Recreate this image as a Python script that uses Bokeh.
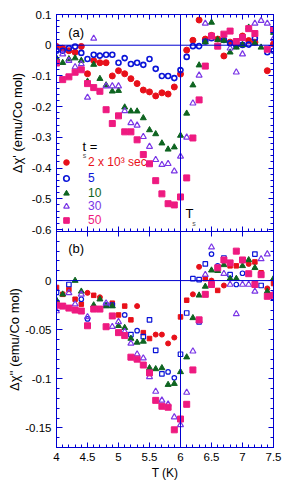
import numpy as np
from bokeh.plotting import figure
from bokeh.models import (FixedTicker, LinearAxis, Span, Label, Legend, LegendItem, Range1d)
from bokeh.layouts import column
from bokeh.embed import file_html
from bokeh.resources import INLINE

# ---------------- data ----------------
# panel (a): delta chi'
red_top_x = [4.0,4.1,4.2,4.3,4.4,4.5,4.6,4.7,4.8,4.9,5.0,5.1,5.2,5.3,5.4,5.5,5.6,5.7,5.8,5.9,6.0,6.1,6.2,6.3,6.4,6.5,6.6,6.7,6.8,6.9,7.0,7.1,7.2,7.4,7.5]
red_top_y = [-0.004,-0.010,-0.018,-0.023,-0.004,-0.093,-0.050,-0.057,-0.057,-0.100,-0.083,-0.093,-0.109,-0.125,-0.146,-0.152,-0.165,-0.155,-0.159,-0.136,-0.094,-0.016,0.016,0.082,0.020,0.032,0.020,-0.035,0.010,0.004,0.030,0.015,0.010,-0.083,0.004]

blue_top_x = [4.0,4.1,4.2,4.3,4.4,4.5,4.6,4.7,4.8,4.9,5.0,5.1,5.2,5.3,5.4,5.5,5.6,5.7,5.8,5.9,6.0,6.1,6.2,6.3,6.4,6.5,6.7,6.8,6.9,7.0,7.1,7.2,7.4,7.5]
blue_top_y = [-0.018,-0.018,-0.010,-0.004,-0.025,-0.045,-0.031,-0.034,-0.031,-0.031,-0.057,-0.042,-0.061,-0.057,-0.064,-0.045,-0.077,-0.100,-0.100,-0.107,-0.081,-0.038,-0.003,-0.003,0.012,0.023,0.017,0.006,-0.002,0.001,0.002,0.023,-0.023,-0.018]

green_top_x = [4.0,4.1,4.2,4.3,4.4,4.5,4.6,4.7,4.8,4.9,5.0,5.1,5.2,5.3,5.4,5.5,5.6,5.7,5.8,5.9,6.0,6.1,6.2,6.3,6.4,6.5,6.6,6.7,6.8,6.9,7.0,7.1,7.2,7.3,7.5]
green_top_y = [-0.042,-0.057,-0.045,-0.042,-0.050,-0.118,-0.063,-0.109,-0.130,-0.150,-0.148,-0.202,-0.215,-0.215,-0.237,-0.276,-0.289,-0.319,-0.339,-0.332,-0.294,-0.222,-0.130,-0.065,0.010,0.074,0.018,0.015,-0.023,-0.007,0.001,0.058,0.006,-0.007,0.041]

purple_top_x = [4.1,4.2,4.3,4.4,4.5,4.6,4.8,4.9,5.0,5.1,5.2,5.3,5.4,5.5,5.6,5.7,5.8,5.9,6.0,6.1,6.2,6.3,6.4,6.8,6.9,7.0,7.2,7.3,7.4,7.5]
purple_top_y = [-0.029,-0.050,-0.071,-0.061,-0.170,0.022,-0.133,-0.133,-0.133,-0.214,-0.253,-0.261,-0.298,-0.330,-0.373,-0.389,-0.386,-0.410,-0.362,-0.300,-0.189,-0.098,0.071,-0.010,-0.088,-0.029,0.071,0.080,0.071,0.021]

magenta_top_x = [4.0,4.1,4.2,4.3,4.4,4.5,4.6,4.7,4.8,4.9,5.0,5.1,5.2,5.3,5.4,5.5,5.6,5.7,5.8,5.9,6.0,6.1,6.2,6.3,6.4,6.5,6.6,6.7,6.8,6.9,7.0,7.1,7.2,7.4,7.5]
magenta_top_y = [-0.058,-0.112,-0.103,-0.088,-0.080,-0.125,-0.138,-0.150,-0.210,-0.255,-0.230,-0.282,-0.282,-0.308,-0.356,-0.386,-0.441,-0.484,-0.516,-0.520,-0.494,-0.432,-0.302,-0.178,-0.068,0.030,-0.003,0.036,0.046,0.012,0.025,0.054,0.038,-0.013,0.051]

# panel (b): delta chi''
red_sq_x = [4.0,4.1,4.2,4.3,4.4,4.6,4.9,5.0,5.1,5.2,5.4,5.5,6.0,6.1,6.4,6.6,6.8,6.9,7.2,7.3,7.5]
red_sq_y = [-0.007,-0.014,-0.009,-0.019,-0.024,-0.015,-0.023,-0.035,-0.026,-0.040,-0.053,-0.059,-0.037,-0.020,0.002,-0.010,0.015,0.015,0.019,0.008,-0.003]
red_ci_x = [4.5,4.7,5.3,5.6,5.7,5.8,5.9,6.2,6.3,6.5,6.7,7.1,7.4]
red_ci_y = [-0.0125,-0.017,-0.026,-0.055,-0.055,-0.064,-0.058,-0.014,0.014,0.0,-0.005,0.017,-0.008]

blue_sq_x = [4.0,4.2,4.8,4.9,5.2,5.4,5.5,5.6,5.7,6.0,6.1,6.2,6.3,6.3,6.4,6.7,6.8,7.2,7.3,7.5]
blue_sq_y = [-0.012,-0.004,-0.025,-0.025,-0.055,-0.057,-0.040,-0.071,-0.095,-0.075,-0.033,0.002,0.001,-0.042,0.017,0.023,0.006,0.027,-0.005,-0.017]
blue_ci_x = [4.4,4.5,5.1,5.3,5.8,5.9,6.5,6.6,6.9,7.0]
blue_ci_y = [-0.019,-0.039,-0.035,-0.051,-0.093,-0.099,0.027,0.015,-0.004,0.0075]

green_bot_x = [4.0,4.1,4.3,4.4,4.6,4.7,4.8,4.9,5.0,5.1,5.2,5.3,5.4,5.5,5.6,5.7,5.8,5.9,6.0,6.1,6.2,6.3,6.4,6.5,6.6,6.7,6.8,6.9,7.0,7.1,7.2,7.4,7.5]
green_bot_y = [-0.020,-0.014,0.0,-0.011,-0.025,-0.019,-0.026,-0.026,-0.046,-0.048,-0.059,-0.063,-0.062,-0.089,-0.090,-0.089,-0.106,-0.105,-0.093,-0.078,-0.038,-0.015,-0.006,0.0105,0.010,0.016,0.002,0.002,0.015,0.021,0.013,-0.011,0.002]

purple_bot_x = [4.0,4.2,4.3,4.4,4.5,4.8,4.9,5.0,5.1,5.2,5.3,5.4,5.5,5.6,5.7,5.8,5.9,6.0,6.1,6.2,6.3,6.4,6.5,6.7,6.8,6.9,7.0,7.1,7.2,7.3,7.4,7.5]
purple_bot_y = [-0.031,-0.0125,-0.024,-0.014,-0.037,-0.023,-0.047,-0.042,-0.052,-0.064,-0.075,-0.079,-0.098,-0.113,-0.122,-0.126,-0.139,-0.147,-0.114,-0.072,-0.041,0.006,0.034,0.007,-0.004,-0.034,-0.004,-0.004,-0.011,0.022,0.027,-0.014]

magenta_bot_x = [4.0,4.1,4.2,4.3,4.4,4.5,4.6,4.7,4.8,4.9,5.0,5.1,5.2,5.3,5.4,5.5,5.6,5.7,5.8,5.9,6.0,6.1,6.2,6.3,6.4,6.5,6.6,6.7,6.8,6.9,7.0,7.1,7.2,7.3,7.4,7.5]
magenta_bot_y = [-0.025,-0.026,-0.028,-0.030,-0.031,-0.046,-0.029,-0.029,-0.047,-0.036,-0.053,-0.056,-0.078,-0.080,-0.086,-0.094,-0.122,-0.128,-0.129,-0.152,-0.141,-0.126,-0.091,-0.040,-0.014,-0.004,0.013,0.021,0.018,0.030,0.021,0.007,-0.004,0.006,-0.016,-0.015]

legend_labels = ["2 x 10\u00b3 sec", "5", "10", "30", "50"]

x_ticks = [4.0, 4.5, 5.0, 5.5, 6.0, 6.5, 7.0, 7.5]
x_tick_labels = ["4", "4.5", "5", "5.5", "6", "6.5", "7", "7.5"]
ya_ticks = [0.1, 0.0, -0.1, -0.2, -0.3, -0.4, -0.5, -0.6]
ya_tick_labels = ["0.1", "0", "-0.1", "-0.2", "-0.3", "-0.4", "-0.5", "-0.6"]
yb_ticks = [0.0, -0.05, -0.1, -0.15]
yb_tick_labels = ["0", "-0.05", "-0.1", "-0.15"]

T_s = 6.0

# ---------------- style ----------------
AX = "#0000d0"
RED = "#e8101a"
BLUE = "#0a14d8"
GREEN = "#0e6420"
PURPLE = "#7a36e6"
MAGENTA = "#ee1a80"
FONT = "Liberation Sans"

x_minor = [round(v, 2) for v in np.arange(4.0, 7.5001, 0.1)]
ya_minor = [round(v, 3) for v in np.arange(-0.6, 0.1001, 0.02)]
yb_minor = [round(v, 3) for v in np.arange(-0.17, 0.0501, 0.01)]


def style_axis(ax, show_labels, tick_in=5, minor_in=3):
    ax.axis_line_color = AX
    ax.major_tick_line_color = AX
    ax.minor_tick_line_color = AX
    ax.major_tick_in = tick_in
    ax.major_tick_out = 0
    ax.minor_tick_in = minor_in
    ax.minor_tick_out = 0
    ax.major_label_text_font = FONT
    ax.axis_label_text_font = FONT
    ax.axis_label_text_font_style = "normal"
    ax.axis_label_text_color = "black"
    ax.major_label_text_font_size = "11.5px"
    if show_labels:
        ax.major_label_text_color = "black"
        ax.major_label_standoff = 5
    else:
        ax.major_label_text_color = None
        ax.major_label_standoff = 0


def make_fig(height, yr, yticks, yminor, ylabels_txt, ylabel, label_standoff, show_x, mbt, mbb):
    p = figure(width=290, height=height, x_range=Range1d(4.0, 7.5), y_range=Range1d(*yr),
               output_backend="svg", toolbar_location=None,
               min_border_left=56, min_border_right=17, min_border_top=mbt, min_border_bottom=mbb,
               x_axis_location=None, y_axis_location=None)
    p.xgrid.visible = False
    p.ygrid.visible = False
    p.outline_line_color = AX

    xt = FixedTicker(ticks=x_ticks, minor_ticks=x_minor)
    yt = FixedTicker(ticks=yticks, minor_ticks=yminor)
    xo = dict(zip(x_ticks, x_tick_labels))
    yo = dict(zip(yticks, ylabels_txt))

    left = LinearAxis(ticker=yt, major_label_overrides=yo, axis_label=ylabel)
    style_axis(left, True)
    left.major_tick_in = 6
    left.axis_label_text_font_size = "13px"
    left.axis_label_standoff = label_standoff
    p.add_layout(left, "left")

    right = LinearAxis(ticker=yt)
    style_axis(right, False)
    p.add_layout(right, "right")

    below = LinearAxis(ticker=xt, major_label_overrides=xo)
    style_axis(below, show_x)
    if show_x:
        below.axis_label = "T (K)"
        below.axis_label_text_font_size = "12px"
        below.axis_label_standoff = 2
    p.add_layout(below, "below")
    return p, xt


# ---------------- panel (a) ----------------
p1, xt1 = make_fig(237, (-0.6065, 0.1), ya_ticks, ya_minor, ya_tick_labels,
                   "\u0394\u03c7' (emu/Co mol)", 4, False, 14, 6)
p1.background_fill_color = "white"
p1.border_fill_color = "white"
top1 = LinearAxis(ticker=xt1)
style_axis(top1, False)
p1.add_layout(top1, "above")

p1.add_layout(Span(location=0, dimension="width", line_color=AX, line_width=1))
p1.add_layout(Span(location=T_s, dimension="height", line_color=AX, line_width=1))

r_red = p1.scatter(red_top_x, red_top_y, marker="circle", size=6, fill_color=RED, line_color=RED)
r_blue = p1.scatter(blue_top_x, blue_top_y, marker="circle", size=5, fill_color=None, line_color=BLUE, line_width=1.6)
r_green = p1.scatter(green_top_x, green_top_y, marker="triangle", size=6, fill_color=GREEN, line_color=GREEN)
r_purple = p1.scatter(purple_top_x, purple_top_y, marker="triangle", size=6, fill_color=None, line_color=PURPLE, line_width=1.2)
r_mag = p1.scatter(magenta_top_x, magenta_top_y, marker="square", size=6, fill_color=MAGENTA, line_color=MAGENTA)

legend_rows = [(legend_labels[0], RED, r_red, 62),
               (legend_labels[1], BLUE, r_blue, 46),
               (legend_labels[2], GREEN, r_green, 31),
               (legend_labels[3], PURPLE, r_purple, 18),
               (legend_labels[4], MAGENTA, r_mag, 4)]
for lab, col, rend, yoff in legend_rows:
    lg = Legend(items=[LegendItem(label=lab, renderers=[rend])], location=(0, yoff),
                padding=0, margin=0, spacing=0, glyph_width=20, glyph_height=14,
                label_height=14, label_standoff=12, label_text_color=col,
                label_text_font=FONT, label_text_font_size="12px",
                border_line_color=None, background_fill_alpha=0)
    p1.add_layout(lg, "center")

p1.add_layout(Label(x=4.19, y=0.041, text="(a)", text_font=FONT, text_font_size="13px",
                    text_baseline="middle", text_color="black"))
p1.add_layout(Label(x=4.42, y=-0.33, text="t  =", text_font=FONT, text_font_size="13px",
                    text_baseline="middle", text_color="black"))
p1.add_layout(Label(x=4.425, y=-0.358, text="s", text_font=FONT, text_font_size="7px",
                    text_baseline="middle", text_color="#555555"))
p1.add_layout(Label(x=6.08, y=-0.548, text="T", text_font=FONT, text_font_size="13px",
                    text_baseline="middle", text_color="black"))
p1.add_layout(Label(x=6.19, y=-0.58, text="s", text_font=FONT, text_font_size="7px",
                    text_baseline="middle", text_color="#555555"))

# ---------------- panel (b) ----------------
p2, xt2 = make_fig(258, (-0.17, 0.05), yb_ticks, yb_minor, yb_tick_labels,
                   "\u0394\u03c7'' (emu/Co mol)", 0, True, 0, 42)
p2.background_fill_color = None
p2.border_fill_color = None
p2.margin = (-6, 0, 0, 0)
top2 = LinearAxis(ticker=FixedTicker(ticks=x_ticks, minor_ticks=[]))
style_axis(top2, False, tick_in=5, minor_in=0)
p2.add_layout(top2, "above")

p2.add_layout(Span(location=0, dimension="width", line_color=AX, line_width=1))
p2.add_layout(Span(location=T_s, dimension="height", line_color=AX, line_width=1))

p2.scatter(red_sq_x, red_sq_y, marker="square", size=4.5, fill_color=RED, line_color=RED)
p2.scatter(red_ci_x, red_ci_y, marker="circle", size=5, fill_color=RED, line_color=RED)
p2.scatter(blue_sq_x, blue_sq_y, marker="square", size=4.5, fill_color=None, line_color=BLUE, line_width=1.2)
p2.scatter(blue_ci_x, blue_ci_y, marker="circle", size=4.5, fill_color=None, line_color=BLUE, line_width=1.2)
p2.scatter(green_bot_x, green_bot_y, marker="triangle", size=6, fill_color=GREEN, line_color=GREEN)
p2.scatter(purple_bot_x, purple_bot_y, marker="triangle", size=6, fill_color=None, line_color=PURPLE, line_width=1.2)
p2.scatter(magenta_bot_x, magenta_bot_y, marker="square", size=6, fill_color=MAGENTA, line_color=MAGENTA)

p2.add_layout(Label(x=4.19, y=0.0325, text="(b)", text_font=FONT, text_font_size="13px",
                    text_baseline="middle", text_color="black"))

layout = column(p1, p2, spacing=0)
open("out.html", "w").write(file_html(layout, INLINE))
